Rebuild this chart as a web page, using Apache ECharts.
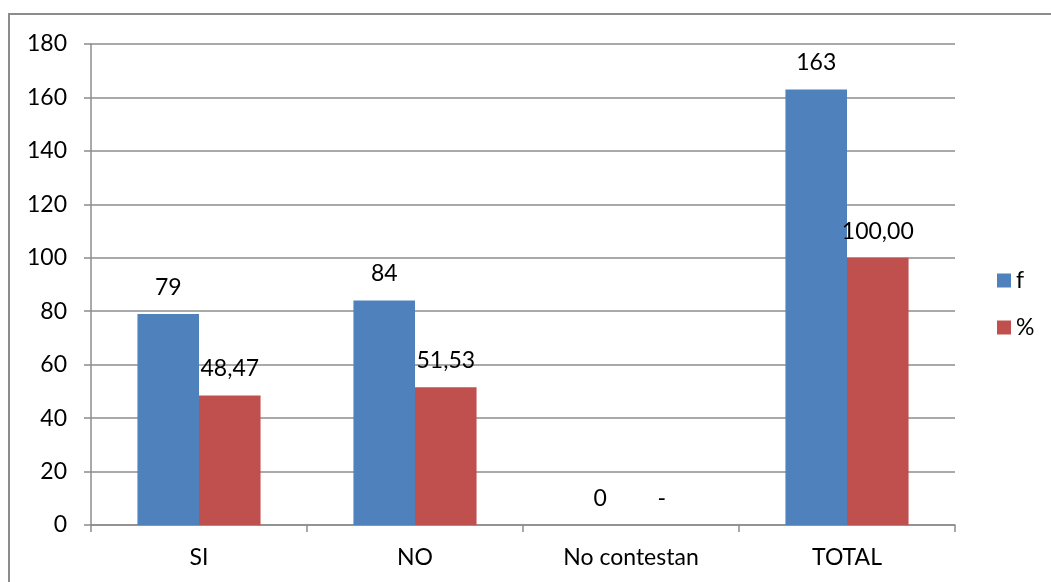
<!DOCTYPE html>
<html><head><meta charset="utf-8">
<script src="https://cdn.jsdelivr.net/npm/echarts@6/dist/echarts.min.js"></script>
<style>html,body{margin:0;padding:0;background:#fff}#c{width:1051px;height:582px}</style>
</head><body><div id="c"></div>
<script>
const categories = ['SI', 'NO', 'No contestan', 'TOTAL'];
const fValues = [79, 84, 0, 163];
const pctValues = [48.47, 51.53, 0, 100.00];
const pctLabels = ['48,47', '51,53', '-', '100,00'];
const yTicks = [0, 20, 40, 60, 80, 100, 120, 140, 160, 180];

const font = 'Lato, "Open Sans", sans-serif';
const fs = 23;
const chart = echarts.init(document.getElementById('c'));
chart.setOption({
  animation: false,
  graphic: [{type: 'rect', shape: {x: 9, y: 14, width: 1200, height: 700}, style: {fill: 'none', stroke: '#8c8c8c', lineWidth: 2}, silent: true, z: -1}],
  grid: {left: 91, top: 44, right: 96, bottom: 57, containLabel: false},
  legend: {
    orient: 'vertical', left: 992, top: 264, itemWidth: 14, itemHeight: 14, itemGap: 24,
    icon: 'rect', textStyle: {fontFamily: font, fontSize: fs, color: '#000'},
    data: ['f', '%']
  },
  xAxis: {
    type: 'category', data: categories,
    axisLine: {lineStyle: {color: '#8c8c8c', width: 1.5}},
    axisTick: {show: true, length: 7, inside: false, lineStyle: {color: '#8c8c8c', width: 1.5}},
    axisLabel: {fontFamily: font, fontSize: fs, color: '#000', margin: 21}
  },
  yAxis: {
    type: 'value', min: 0, max: 180, interval: 20,
    axisLine: {show: true, lineStyle: {color: '#8c8c8c', width: 1.5}},
    axisTick: {show: true, length: 7, lineStyle: {color: '#8c8c8c', width: 1.5}},
    splitLine: {lineStyle: {color: '#8c8c8c', width: 1.5}},
    axisLabel: {fontFamily: font, fontSize: fs, color: '#000', margin: 24,
      formatter: v => yTicks.includes(v) ? String(v) : ''}
  },
  series: [
    {name: 'f', type: 'bar', data: fValues, barGap: '0%', barCategoryGap: '43%',
     itemStyle: {color: '#4F81BD'},
     label: {show: true, position: 'top', distance: 15, fontFamily: font, fontSize: fs, color: '#000'}},
    {name: '%', type: 'bar', data: pctValues, barGap: '0%', barCategoryGap: '43%',
     itemStyle: {color: '#C0504D'},
     label: {show: true, position: 'top', distance: 15, fontFamily: font, fontSize: fs, color: '#000',
       formatter: p => pctLabels[p.dataIndex]}}
  ]
});
</script></body></html>
